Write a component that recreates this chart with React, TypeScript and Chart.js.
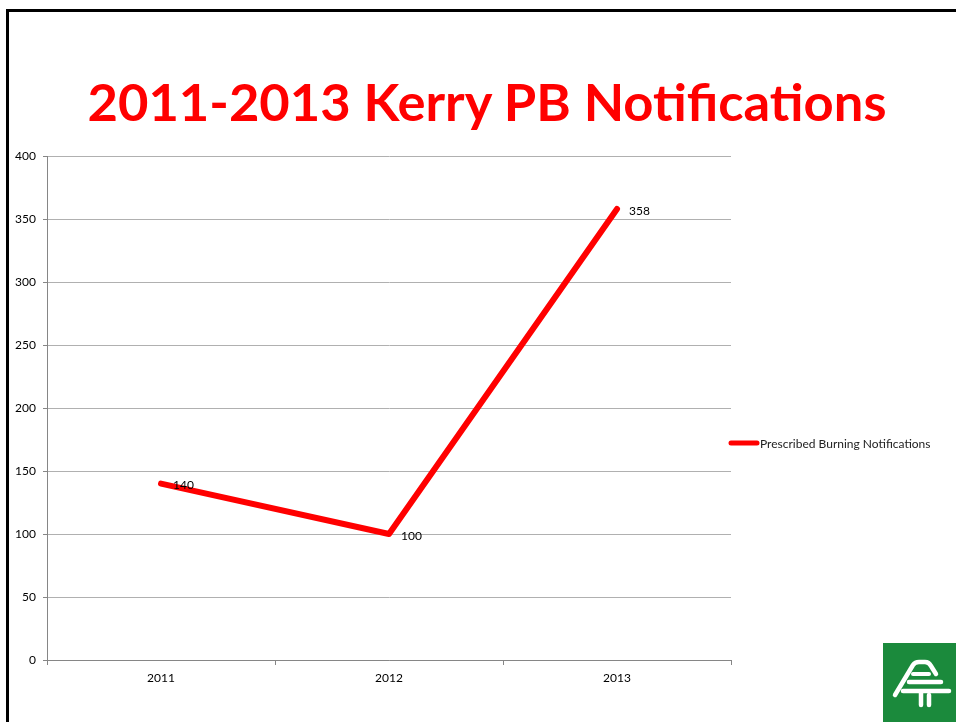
import React, { useEffect, useRef } from "react";
import { Chart, registerables } from "chart.js";

Chart.register(...registerables);

const categories = ["2011", "2012", "2013"];
const seriesLabel = "Prescribed Burning Notifications";
const seriesValues = [140, 100, 358];
const yTicks = [0, 50, 100, 150, 200, 250, 300, 350, 400];
const titleText = "2011-2013 Kerry PB Notifications";

const FONT = "Lato, 'Open Sans', sans-serif";

export default function App() {
  const ref = useRef<HTMLCanvasElement | null>(null);

  useEffect(() => {
    if (!ref.current) return;
    const labelPlugin = {
      id: "extras",
      afterDatasetsDraw(chart: any) {
        const ctx = chart.ctx;
        const meta = chart.getDatasetMeta(0);
        ctx.save();
        ctx.font = `12px ${FONT}`;
        ctx.fillStyle = "#000";
        ctx.textAlign = "left";
        ctx.textBaseline = "middle";
        meta.data.forEach((pt: any, i: number) => {
          ctx.fillText(String(chart.data.datasets[0].data[i]), pt.x + 12, pt.y + 2);
        });
        const ds = chart.data.datasets[0];
        const lx = chart.chartArea.right;
        const ly = 443;
        ctx.strokeStyle = ds.borderColor;
        ctx.lineWidth = 5;
        ctx.lineCap = "round";
        ctx.beginPath();
        ctx.moveTo(lx, ly);
        ctx.lineTo(lx + 26, ly);
        ctx.stroke();
        ctx.font = `12px ${FONT}`;
        ctx.fillStyle = "#222";
        ctx.fillText(ds.label, lx + 29, ly + 1);
        ctx.restore();
      },
    };

    const chart = new Chart(ref.current, {
      type: "line",
      data: {
        labels: categories,
        datasets: [
          {
            label: seriesLabel,
            data: seriesValues,
            borderColor: "#FF0000",
            backgroundColor: "#FF0000",
            borderWidth: 6,
            pointRadius: 0,
            borderCapStyle: "round",
            borderJoinStyle: "round",
            tension: 0,
          },
        ],
      },
      options: {
        responsive: false,
        animation: false,
        layout: { padding: { left: 0, right: 225, top: 156, bottom: 32 } },
        plugins: {
          legend: { display: false },
          tooltip: { enabled: false },
          title: { display: false },
        },
        scales: {
          x: {
            offset: true,
            grid: {
              offset: true,
              drawOnChartArea: false,
              drawTicks: true,
              tickLength: 5,
              color: "#868686",
            },
            border: { color: "#868686", width: 1 },
            ticks: {
              padding: 6,
              color: "#000",
              font: { family: FONT, size: 12 },
            },
            afterFit: (s: any) => {
              s.height = 30;
            },
          },
          y: {
            min: 0,
            max: 400,
            afterBuildTicks: (s: any) => {
              s.ticks = yTicks.map((v) => ({ value: v }));
            },
            grid: {
              color: "#B0B0B0",
              tickLength: 4,
              tickColor: "#868686",
            },
            border: { color: "#868686", width: 1 },
            ticks: {
              padding: 7,
              color: "#000",
              font: { family: FONT, size: 12 },
            },
            afterFit: (s: any) => {
              s.width = 47;
            },
          },
        },
      },
      plugins: [labelPlugin],
    });
    return () => chart.destroy();
  }, []);

  return (
    <div style={{ position: "absolute", left: 0, top: 0, width: 956, height: 722, overflow: "hidden", background: "#fff" }}>
      <div
        style={{
          position: "absolute",
          left: 6,
          top: 9,
          width: 1000,
          height: 800,
          border: "3px solid #000",
          boxSizing: "border-box",
        }}
      />
      <div
        style={{
          position: "absolute",
          left: 0,
          width: 974,
          top: 71,
          textAlign: "center",
          fontFamily: FONT,
          fontWeight: 700,
          fontSize: 52.5,
          lineHeight: "60px",
          color: "#FF0000",
          whiteSpace: "nowrap",
        }}
      >
        {titleText}
      </div>
      <canvas ref={ref} width={956} height={722} style={{ position: "absolute", left: 0, top: 0 }} />
      <svg style={{ position: "absolute", left: 883, top: 643 }} width={73} height={79} viewBox="0 0 73 79">
        <rect x={0} y={0} width={73} height={79} fill="#1B8A3C" />
        <path d="M12 52 L30 22 Q32 19 36 19 L42 19 Q46 19 48 23 L53 31" fill="none" stroke="#fff" strokeWidth={4.5} strokeLinecap="round" strokeLinejoin="round" />
        <path d="M30 31 L46 31" fill="none" stroke="#fff" strokeWidth={4} strokeLinecap="round" />
        <path d="M26 39 L58 39" fill="none" stroke="#fff" strokeWidth={4.5} strokeLinecap="round" />
        <path d="M20 48 L66 48" fill="none" stroke="#fff" strokeWidth={4.5} strokeLinecap="round" />
        <path d="M38 50 L38 62" fill="none" stroke="#fff" strokeWidth={4.5} strokeLinecap="round" />
        <path d="M46 52 L46 62" fill="none" stroke="#fff" strokeWidth={4.5} strokeLinecap="round" />
      </svg>
    </div>
  );
}
